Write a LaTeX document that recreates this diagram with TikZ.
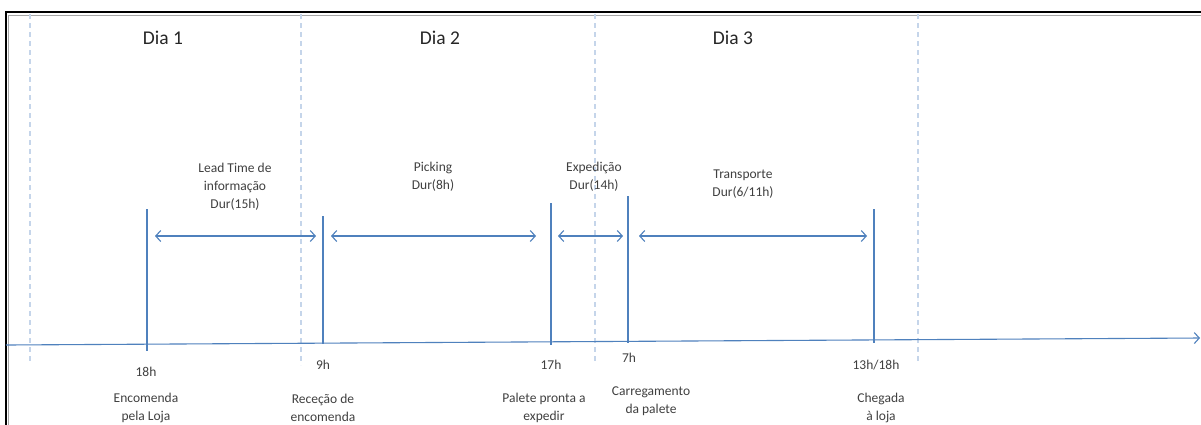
\documentclass[tikz,border=0pt]{standalone}
\usepackage{fontspec}
\setmainfont{Carlito}
\usetikzlibrary{arrows.meta}
\definecolor{lineblue}{HTML}{4F81BD}
\definecolor{dashblue}{HTML}{C5D5EA}
\definecolor{labelgray}{HTML}{404040}
\tikzset{
  daytitle/.style={font=\fontsize{19.5}{22}\selectfont, text=black!85, inner sep=0pt},
  small/.style={font=\fontsize{13.5}{18}\selectfont, text=labelgray, align=center, inner sep=0pt},
  daysep/.style={draw=dashblue, line width=1.2pt, dash pattern=on 5pt off 4pt},
  mark line/.style={draw=lineblue, line width=1.3pt},
  span/.style={draw=lineblue, line width=1.1pt, {Straight Barb[length=5pt,width=11pt]}-{Straight Barb[length=5pt,width=11pt]}},
  timeaxis/.style={draw=lineblue, line width=1.1pt, -{Straight Barb[length=5pt,width=11pt]}}
}
\begin{document}
\begin{tikzpicture}[x=1pt,y=-1pt]
\useasboundingbox (0,0) rectangle (1201,424);
\fill[white] (0,0) rectangle (1201,424);

% frame
\draw[black!35, line width=1pt] (8,427) -- (8,15) -- (1203,15);
\draw[black, line width=1.6pt] (6,427) -- (6,12) -- (1203,12);

% day separators
\foreach \n/\x/\b in {a/30/363, b/301/365, c/595/363, d/918/362}
  \draw[daysep] (\x,14) coordinate (sep\n top) -- (\x,\b) coordinate (sep\n bot);

% time axis
\coordinate (axL) at (6,345);
\coordinate (axR) at (1200,338);
\draw[timeaxis] (axL) -- (axR);

% event markers
\foreach \n/\x/\t/\b in {e1/147/209/351, e2/323/216/344, e3/551/203/345, e4/628/196/343, e5/874/209/343}
  \draw[mark line] (\x,\t) coordinate (\n top) -- (\x,\b) coordinate (\n bot);

% duration spans
\coordinate (s1a) at (155,236); \coordinate (s1b) at (316,236);
\coordinate (s2a) at (331,236); \coordinate (s2b) at (536,236);
\coordinate (s3a) at (558,236); \coordinate (s3b) at (623,236);
\coordinate (s4a) at (639,236); \coordinate (s4b) at (867,236);
\draw[span] (s1a) -- (s1b);
\draw[span] (s2a) -- (s2b);
\draw[span] (s3a) -- (s3b);
\draw[span] (s4a) -- (s4b);

% day titles
\node[daytitle] (dia1) at (163,38) {Dia 1};
\node[daytitle] (dia2) at (440,38) {Dia 2};
\node[daytitle] (dia3) at (733,38) {Dia 3};

% span labels
\node[small] (lead) at (235,187) {Lead Time de\\informação\\Dur(15h)};
\node[small] (pick) at (433,177) {Picking\\Dur(8h)};
\node[small] (exped) at (594,177) {Expedição\\Dur(14h)};
\node[small] (transp) at (743,184) {Transporte\\Dur(6/11h)};

% times
\node[small] (t1) at (146,372) {18h};
\node[small] (t2) at (323,365) {9h};
\node[small] (t3) at (551,365) {17h};
\node[small] (t4) at (629,358) {7h};
\node[small] (t5) at (876,365) {13h/18h};

% events
\node[small] (ev1) at (146,408) {Encomenda\\pela Loja};
\node[small] (ev2) at (323,408) {Receção de\\encomenda};
\node[small] (ev3) at (544,408) {Palete pronta a\\expedir};
\node[small] (ev4) at (651,401) {Carregamento\\da palete};
\node[small] (ev5) at (881,408) {Chegada\\à loja};
\end{tikzpicture}
\end{document}
